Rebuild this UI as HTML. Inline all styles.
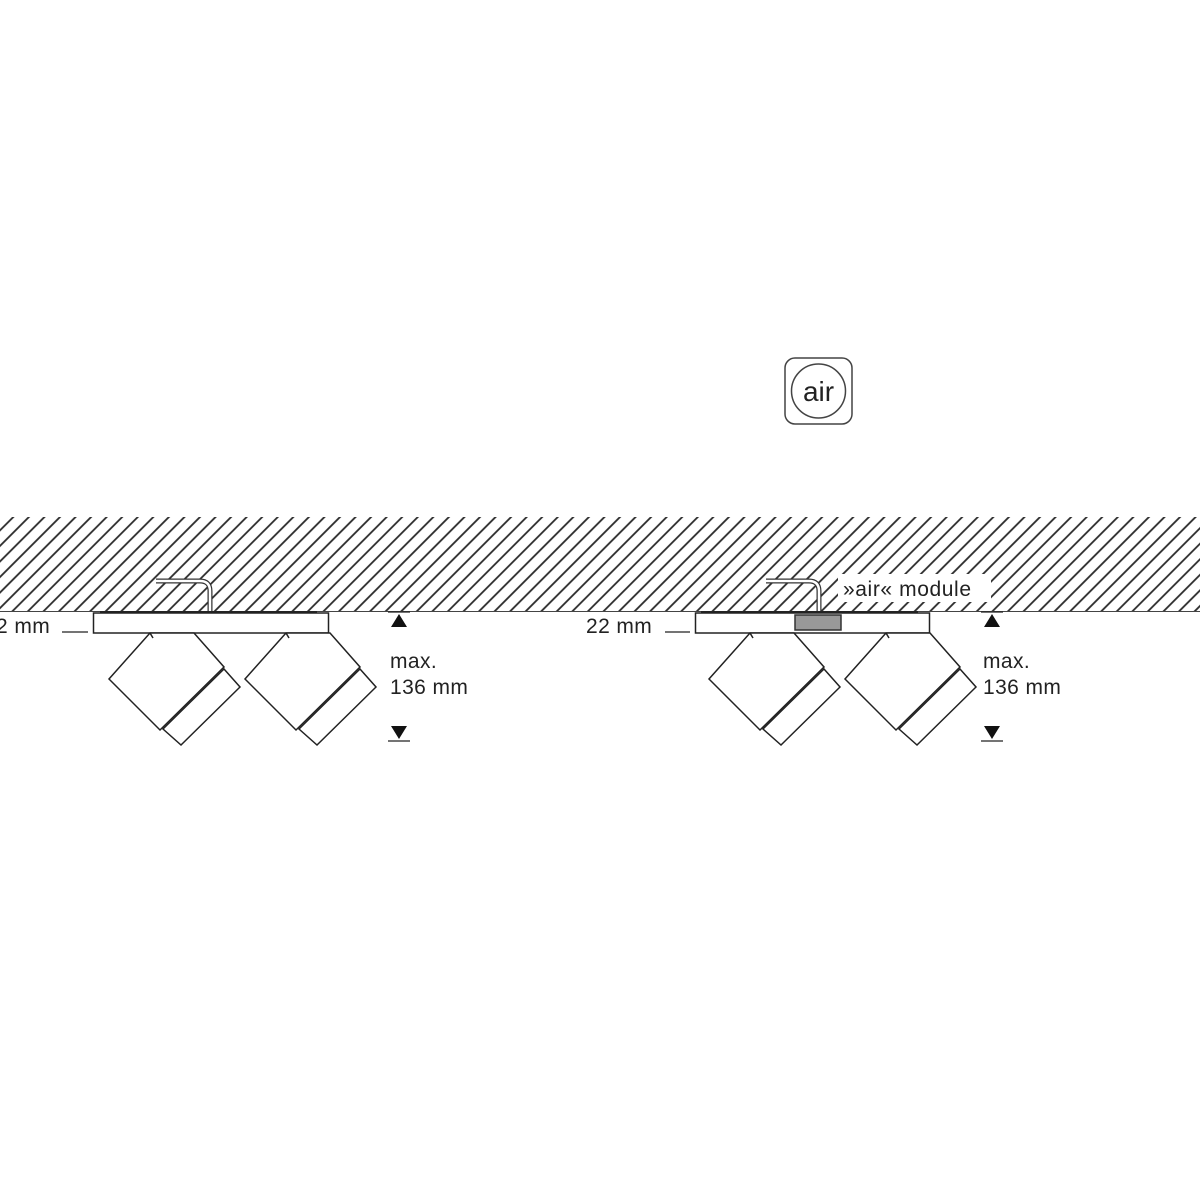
<!DOCTYPE html>
<html><head><meta charset="utf-8"><style>
html,body{margin:0;padding:0;background:#fff;}
svg{display:block}
text{font-family:"Liberation Sans",sans-serif;fill:#222}
</style></head><body>
<svg width="1200" height="1200" viewBox="0 0 1200 1200" xmlns="http://www.w3.org/2000/svg">
<defs>
<pattern id="h" patternUnits="userSpaceOnUse" width="11" height="11" patternTransform="rotate(45)">
<line x1="1" y1="0" x2="1" y2="11" stroke="#2a2a2a" stroke-width="1.8"/>
</pattern>
<g id="lamp" fill="#fff" stroke="#222" stroke-width="1.5" stroke-linejoin="miter">
<polygon points="150,633 194,633 224,667 160,730 109,679"/>
<polygon points="224,669 240,687 181,745 163,729"/>
<line x1="150" y1="633" x2="153" y2="638"/>
</g>
</defs>
<rect x="0" y="517" width="1200" height="95" fill="url(#h)"/>
<line x1="0" y1="611.5" x2="1200" y2="611.5" stroke="#444" stroke-width="1"/>
<path d="M156,581 H200 Q210,581 210,591 V612" fill="none" stroke="#333" stroke-width="5"/>
<path d="M156,581 H200 Q210,581 210,591 V612" fill="none" stroke="#fff" stroke-width="2.5"/>
<line x1="100" y1="612" x2="317" y2="612" stroke="#222" stroke-width="2"/>
<rect x="93.5" y="613" width="235" height="20" fill="#fff" stroke="#222" stroke-width="1.5"/>
<use href="#lamp"/>
<use href="#lamp" transform="translate(136,0)"/>
<path d="M766,581 H809 Q819,581 819,591 V612" fill="none" stroke="#333" stroke-width="5"/>
<path d="M766,581 H809 Q819,581 819,591 V612" fill="none" stroke="#fff" stroke-width="2.5"/>
<line x1="701" y1="612" x2="918" y2="612" stroke="#222" stroke-width="2"/>
<rect x="695.5" y="613" width="234" height="20" fill="#fff" stroke="#222" stroke-width="1.5"/>
<rect x="795" y="615" width="46" height="15" fill="#999" stroke="#333" stroke-width="1.5"/>
<rect x="838" y="574" width="153" height="28" fill="#fff"/>
<text x="843" y="596" font-size="21" letter-spacing="0.6">»air« module</text>
<use href="#lamp" transform="translate(600,0)"/>
<use href="#lamp" transform="translate(736,0)"/>
<text x="-4" y="633" font-size="21" letter-spacing="0.4">2 mm</text>
<line x1="62" y1="632" x2="88" y2="632" stroke="#222" stroke-width="1.3"/>
<line x1="388" y1="612" x2="410" y2="612" stroke="#222" stroke-width="1.3"/>
<polygon points="399,614 391,627 407,627" fill="#111"/>
<polygon points="391,726 407,726 399,739" fill="#111"/>
<line x1="388" y1="741" x2="410" y2="741" stroke="#222" stroke-width="1.3"/>
<text x="390" y="668" font-size="21" letter-spacing="0.4">max.</text>
<text x="390" y="694" font-size="21" letter-spacing="0.4">136 mm</text>
<text x="586" y="633" font-size="21" letter-spacing="0.4">22 mm</text>
<line x1="665" y1="632" x2="690" y2="632" stroke="#222" stroke-width="1.3"/>
<line x1="981" y1="612" x2="1003" y2="612" stroke="#222" stroke-width="1.3"/>
<polygon points="992,614 984,627 1000,627" fill="#111"/>
<polygon points="984,726 1000,726 992,739" fill="#111"/>
<line x1="981" y1="741" x2="1003" y2="741" stroke="#222" stroke-width="1.3"/>
<text x="983" y="668" font-size="21" letter-spacing="0.4">max.</text>
<text x="983" y="694" font-size="21" letter-spacing="0.4">136 mm</text>
<rect x="785" y="358" width="67" height="66" rx="10" fill="#fff" stroke="#444" stroke-width="1.5"/>
<circle cx="818.5" cy="391" r="27" fill="none" stroke="#444" stroke-width="1.5"/>
<text x="818.5" y="401" font-size="28" text-anchor="middle" fill="#333">air</text>
</svg>
</body></html>
